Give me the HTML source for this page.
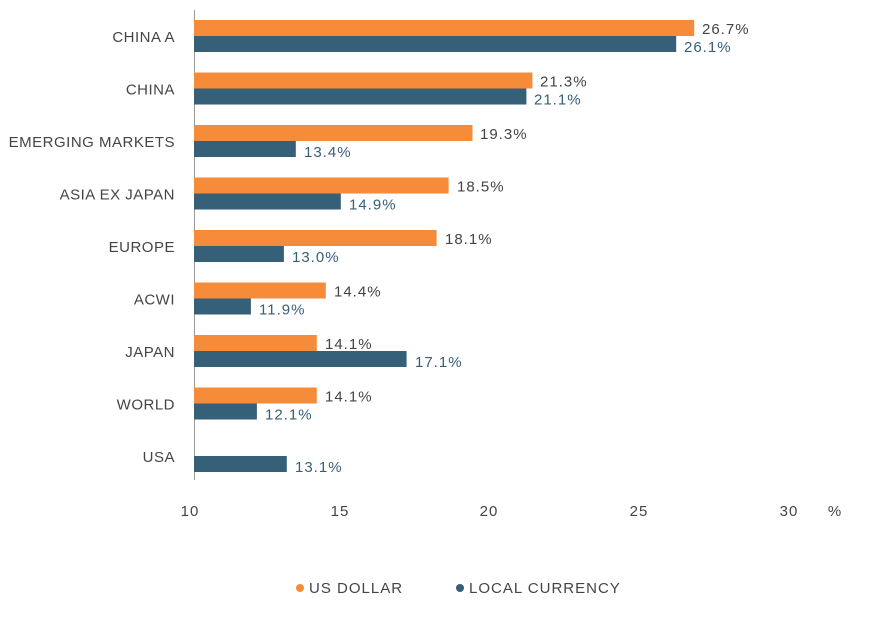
<!DOCTYPE html>
<html><head><meta charset="utf-8"><style>
body{margin:0;background:#fff}
text{font-family:"Liberation Sans",sans-serif;font-size:15px;letter-spacing:1px}
.lab text{letter-spacing:0.5px}
</style></head><body>
<svg width="871" height="632" xmlns="http://www.w3.org/2000/svg">
<line x1="194.5" y1="10" x2="194.5" y2="480" stroke="#999" stroke-width="1"/>
<g fill="#f68b3a">
<rect x="194" y="20" width="500.2" height="16"/>
<rect x="194" y="72.5" width="338.4" height="16"/>
<rect x="194" y="125" width="278.5" height="16"/>
<rect x="194" y="177.5" width="254.6" height="16"/>
<rect x="194" y="230" width="242.6" height="16"/>
<rect x="194" y="282.5" width="131.8" height="16"/>
<rect x="194" y="335" width="122.8" height="16"/>
<rect x="194" y="387.5" width="122.8" height="16"/>
</g>
<g fill="#365f78">
<rect x="194" y="36" width="482.2" height="16"/>
<rect x="194" y="88.5" width="332.4" height="16"/>
<rect x="194" y="141" width="101.8" height="16"/>
<rect x="194" y="193.5" width="146.8" height="16"/>
<rect x="194" y="246" width="89.9" height="16"/>
<rect x="194" y="298.5" width="56.9" height="16"/>
<rect x="194" y="351" width="212.6" height="16"/>
<rect x="194" y="403.5" width="62.9" height="16"/>
<rect x="194" y="456" width="92.8" height="16"/>
</g>
<g fill="#444" text-anchor="end" class="lab">
<text x="175" y="42">CHINA A</text>
<text x="175" y="94.5">CHINA</text>
<text x="175" y="147">EMERGING MARKETS</text>
<text x="175" y="199.5">ASIA EX JAPAN</text>
<text x="175" y="252">EUROPE</text>
<text x="175" y="304.5">ACWI</text>
<text x="175" y="357">JAPAN</text>
<text x="175" y="409.5">WORLD</text>
<text x="175" y="462">USA</text>
</g>
<g fill="#444">
<text x="702" y="34">26.7%</text>
<text x="540" y="86.5">21.3%</text>
<text x="480" y="139">19.3%</text>
<text x="457" y="191.5">18.5%</text>
<text x="445" y="244">18.1%</text>
<text x="334" y="296.5">14.4%</text>
<text x="325" y="349">14.1%</text>
<text x="325" y="401.5">14.1%</text>
</g>
<g fill="#365f78">
<text x="684" y="52">26.1%</text>
<text x="534" y="104.5">21.1%</text>
<text x="304" y="157">13.4%</text>
<text x="349" y="209.5">14.9%</text>
<text x="292" y="262">13.0%</text>
<text x="259" y="314.5">11.9%</text>
<text x="415" y="367">17.1%</text>
<text x="265" y="419.5">12.1%</text>
<text x="295" y="472">13.1%</text>
</g>
<g fill="#444" text-anchor="middle">
<text x="190" y="516">10</text>
<text x="340" y="516">15</text>
<text x="489" y="516">20</text>
<text x="639" y="516">25</text>
<text x="789" y="516">30</text>
<text x="835" y="516">%</text>
</g>
<circle cx="300" cy="588" r="4" fill="#f68b3a"/>
<text x="309" y="593" fill="#444">US DOLLAR</text>
<circle cx="460" cy="588" r="4" fill="#365f78"/>
<text x="469" y="593" fill="#444">LOCAL CURRENCY</text>
</svg>
</body></html>
